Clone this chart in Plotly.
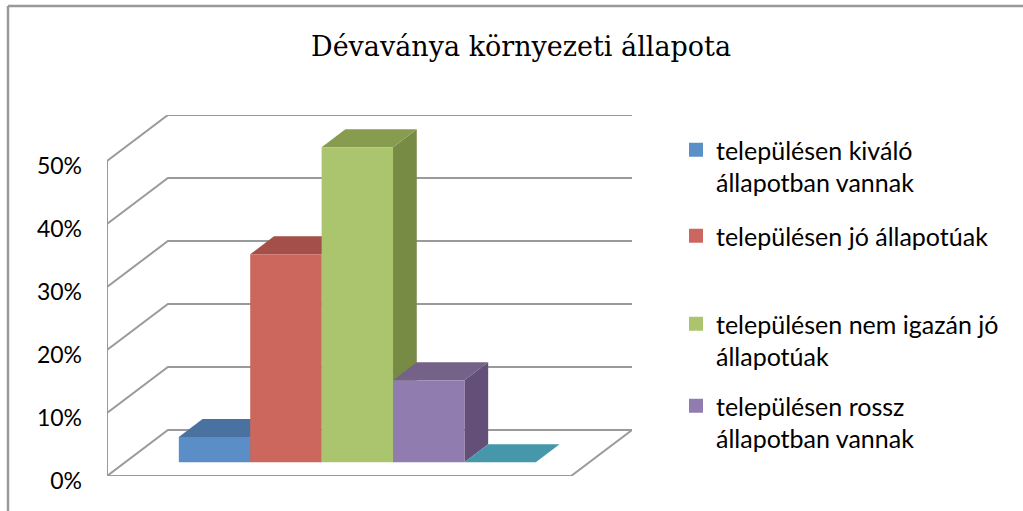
import plotly.graph_objects as go

# ---- data ----
categories = ["településen kiváló<br>állapotban vannak",
              "településen jó állapotúak",
              "településen nem igazán jó<br>állapotúak",
              "településen rossz<br>állapotban vannak",
              ""]
values = [4, 33, 50, 13, 0]
in_legend = [True, True, True, True, False]
tick_values = [0, 10, 20, 30, 40, 50]
tick_labels = ["0%", "10%", "20%", "30%", "40%", "50%"]
title_text = "Dévaványa környezeti állapota"

# ---- styles / geometry ----
front_colors = ["#5B8EC6", "#CB675C", "#ABC46E", "#917CB0", "#4BACC6"]
top_colors = ["#4A72A0", "#A44F47", "#889C50", "#746289", "#4697A9"]
side_colors = ["#3F6390", "#9C453E", "#778B44", "#634F78", "#3A8093"]
legend_colors = ["#5B8FC7", "#CC6660", "#ACC46E", "#917CB0"]
GRID = "#9A9A9A"
W, H = 1023, 511
ML, MR, MT, MB = 107, 391, 115, 35
FLOOR_W = 6.5        # x units (one bar = 1 unit)
GAP = 0.75
DEPTH_DX = 0.853     # x-units shift for full depth
DEPTH_DY = 7.3       # y-units (%) shift for full depth
Z0, Z1 = 0.30, 0.69  # bar depth span
Y_TOP = 57.3

def proj(x, y, z):
    return x + z * DEPTH_DX, y + z * DEPTH_DY

fig = go.Figure()

# walls / grid
gx, gy = [], []
for v in tick_values:
    for (x, y, z) in [(0, v, 0), (0, v, 1), (FLOOR_W, v, 1)]:
        px, py = proj(x, y, z)
        gx.append(px); gy.append(py)
    gx.append(None); gy.append(None)
for seg in [[(0, 0, 0), (FLOOR_W, 0, 0), (FLOOR_W, 0, 1)],
            [(0, 0, 0), (0, max(tick_values), 0)]]:
    for (x, y, z) in seg:
        px, py = proj(x, y, z)
        gx.append(px); gy.append(py)
    gx.append(None); gy.append(None)
fig.add_trace(go.Scatter(x=gx, y=gy, mode="lines", line=dict(color=GRID, width=2),
                         hoverinfo="skip", showlegend=False, cliponaxis=False))

# bars
def poly(pts):
    xs, ys = [], []
    for p in pts:
        a, b = proj(*p)
        xs.append(a); ys.append(b)
    xs.append(xs[0]); ys.append(ys[0])
    return xs, ys

for i, v in enumerate(values):
    x0 = GAP + i
    x1 = x0 + 1
    faces = [
        (poly([(x1, 0, Z0), (x1, 0, Z1), (x1, v, Z1), (x1, v, Z0)]), side_colors[i]),
        (poly([(x0, v, Z0), (x1, v, Z0), (x1, v, Z1), (x0, v, Z1)]), top_colors[i]),
        (poly([(x0, 0, Z0), (x1, 0, Z0), (x1, v, Z0), (x0, v, Z0)]), front_colors[i]),
    ]
    for (xs, ys), col in faces:
        fig.add_trace(go.Scatter(x=xs, y=ys, mode="lines", fill="toself", fillcolor=col,
                                 line=dict(width=0, color=col), hoverinfo="skip",
                                 showlegend=False, cliponaxis=False))

# legends
legend_tops_px = [127, 213, 301, 383]
legend_left_px = 676
font_tick = dict(family="Lato", size=23, color="#000000")
font_legend = dict(family="Lato", size=25, color="#000000")
for i, name in enumerate(categories):
    if not in_legend[i]:
        continue
    lg = "legend" if i == 0 else f"legend{i+1}"
    fig.add_trace(go.Scatter(x=[None], y=[None], mode="markers", name=name,
                             marker=dict(symbol="square", size=14, color=legend_colors[i]),
                             legend=lg, showlegend=True))

def pxx(p):
    return (p - ML) / (W - ML - MR)

def pxy(p):
    return (H - MB - p) / (H - MT - MB)

legend_layout = {}
for k, top in enumerate(legend_tops_px):
    key = "legend" if k == 0 else f"legend{k+1}"
    legend_layout[key] = dict(x=pxx(legend_left_px), y=pxy(top), xanchor="left", yanchor="top",
                              font=font_legend, valign="top", bgcolor="rgba(0,0,0,0)",
                              borderwidth=0, itemsizing="trace")

fig.update_layout(
    width=W, height=H,
    margin=dict(l=ML, r=MR, t=MT, b=MB),
    paper_bgcolor="white", plot_bgcolor="white",
    title=dict(text=title_text, x=521 / W, xref="container",
               y=1 - 47 / H, yref="container", xanchor="center", yanchor="middle",
               font=dict(family="DejaVu Serif", size=27, color="#000000")),
    xaxis=dict(range=[0, FLOOR_W + DEPTH_DX], visible=False, fixedrange=True),
    yaxis=dict(range=[0, Y_TOP], tickvals=tick_values, ticktext=tick_labels,
               showgrid=False, zeroline=False, showline=False, ticks="",
               ticklabelstandoff=24, ticklabelshift=5, tickfont=font_tick, fixedrange=True),
    showlegend=True,
    shapes=[
        dict(type="line", xref="paper", yref="paper", x0=pxx(8), x1=pxx(1030), y0=pxy(6), y1=pxy(6),
             line=dict(color="#999999", width=2.5)),
        dict(type="line", xref="paper", yref="paper", x0=pxx(8), x1=pxx(8), y0=pxy(6), y1=pxy(520),
             line=dict(color="#999999", width=2.5)),
    ],
    **legend_layout,
)

fig.write_html("out.html", config={"displayModeBar": False},
               post_script="document.body.style.margin='0';")
